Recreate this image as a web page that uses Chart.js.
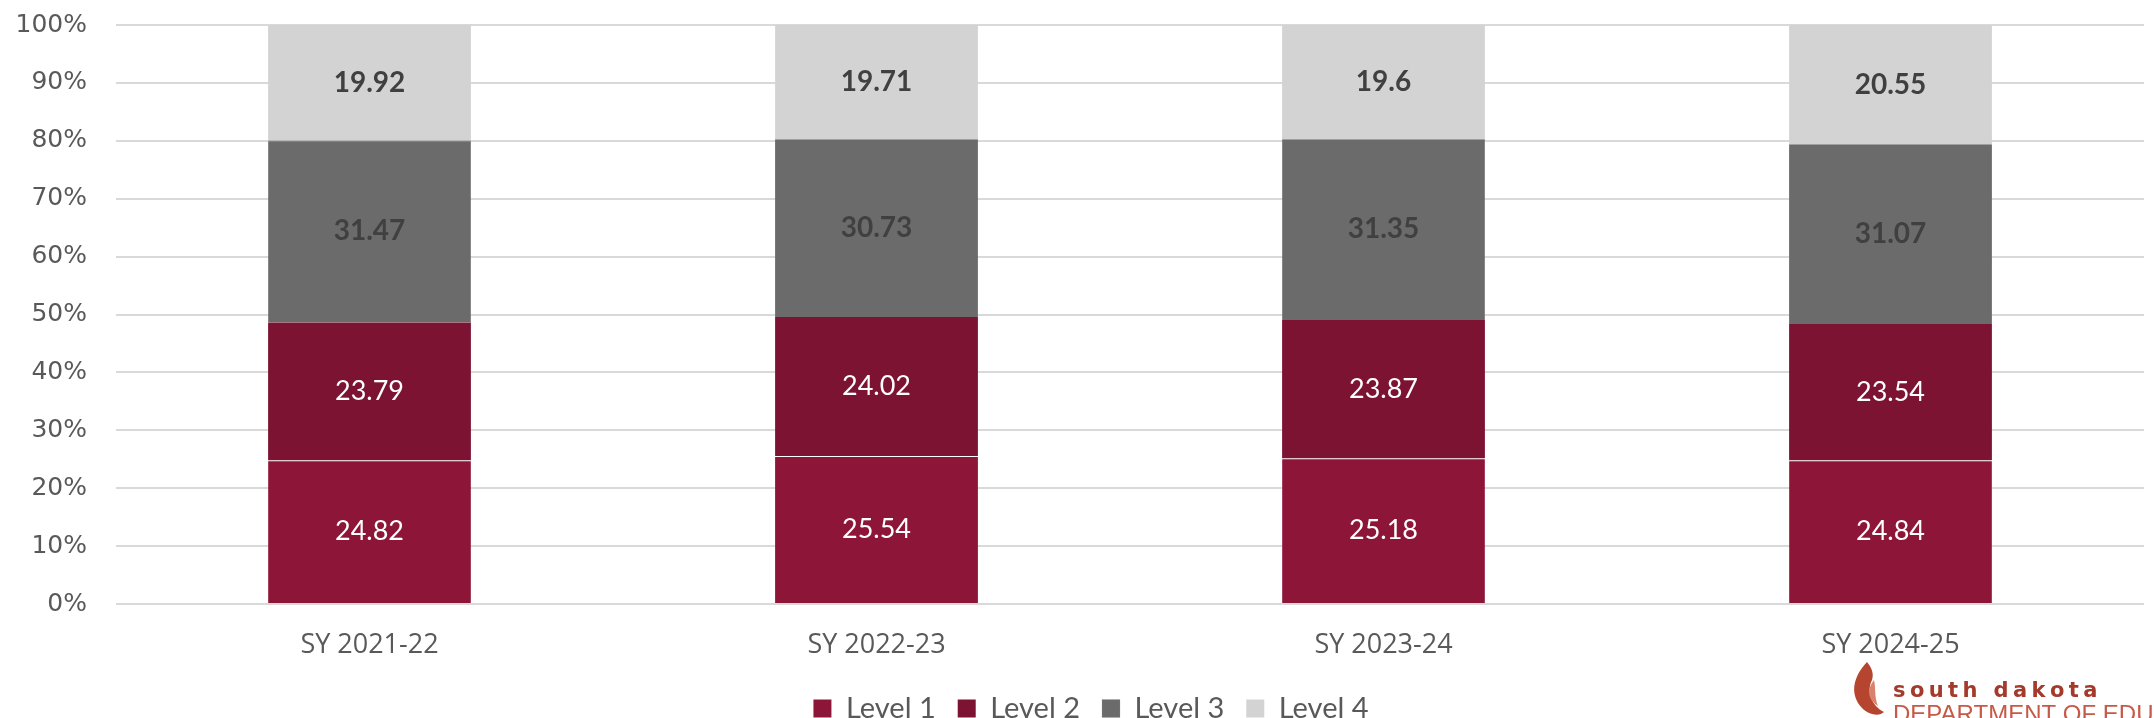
<!DOCTYPE html>
<html>
<head>
<meta charset="utf-8">
<script src="https://cdn.jsdelivr.net/npm/chart.js@4.4.1/dist/chart.umd.min.js"></script>
<style>
html,body{margin:0;padding:0;background:#fff;}
#wrap{width:2154px;height:718px;position:relative;}
</style>
</head>
<body>
<div id="wrap"><canvas id="c" width="2154" height="718"></canvas></div>
<script>
const categories = ["SY 2021-22", "SY 2022-23", "SY 2023-24", "SY 2024-25"];
const level1 = [24.82, 25.54, 25.18, 24.84];
const level2 = [23.79, 24.02, 23.87, 23.54];
const level3 = [31.47, 30.73, 31.35, 31.07];
const level4 = [19.92, 19.71, 19.6, 20.55];
const seriesNames = ["Level 1", "Level 2", "Level 3", "Level 4"];
const yTicks = [0,10,20,30,40,50,60,70,80,90,100];

const colors = ["#8C1538", "#7C1332", "#6B6B6B", "#D3D3D3"];
const labelColors = ["#FFFFFF", "#FFFFFF", "#404040", "#404040"];
const labelFonts = ['27px Lato, sans-serif', '27px Lato, sans-serif', 'bold 28px Lato, sans-serif', 'bold 28px Lato, sans-serif'];

const valueLabels = {
  id: 'valueLabels',
  afterDatasetsDraw(chart) {
    const ctx = chart.ctx;
    chart.data.datasets.forEach((ds, i) => {
      const meta = chart.getDatasetMeta(i);
      meta.data.forEach((bar, j) => {
        const cy = (bar.y + bar.base) / 2;
        ctx.save();
        ctx.font = labelFonts[i];
        ctx.fillStyle = labelColors[i];
        ctx.textAlign = 'center';
        ctx.textBaseline = 'middle';
        ctx.fillText(String(ds.data[j]), bar.x, cy);
        ctx.restore();
      });
    });
  }
};

const legendShift = {
  id: 'legendShift',
  afterLayout(chart) {
    if (chart.legend) { chart.legend.left += 19; chart.legend.right += 19; }
  }
};

const logo = {
  id: 'logo',
  afterDraw(chart) {
    const ctx = chart.ctx;
    ctx.save();
    ctx.fillStyle = '#B5452F';
    ctx.beginPath();
    ctx.moveTo(1867, 662);
    ctx.bezierCurveTo(1852, 678, 1850, 695, 1862, 708);
    ctx.bezierCurveTo(1870, 716, 1880, 716, 1884, 712);
    ctx.bezierCurveTo(1872, 706, 1866, 692, 1872, 680);
    ctx.bezierCurveTo(1874, 674, 1872, 668, 1867, 662);
    ctx.fill();
    ctx.fillStyle = '#D9826E';
    ctx.beginPath();
    ctx.moveTo(1874, 680);
    ctx.bezierCurveTo(1866, 690, 1868, 700, 1878, 706);
    ctx.bezierCurveTo(1874, 696, 1876, 688, 1874, 680);
    ctx.fill();
    ctx.font = 'bold 21px "DejaVu Sans", sans-serif';
    ctx.fillStyle = '#A43A2C';
    ctx.textBaseline = 'alphabetic';
    ctx.textAlign = 'left';
    const s = "south dakota";
    let x = 1893;
    for (const ch of s) { ctx.fillText(ch, x, 697); x += ctx.measureText(ch).width + 4.4; }
    ctx.font = '24px "Liberation Sans", sans-serif';
    ctx.fillStyle = '#C65A48';
    ctx.fillText("DEPARTMENT OF EDUCATION", 1893, 722);
    ctx.restore();
  }
};

new Chart(document.getElementById('c'), {
  type: 'bar',
  data: {
    labels: categories,
    datasets: [level1, level2, level3, level4].map((d, i) => ({
      label: seriesNames[i],
      data: d,
      backgroundColor: colors[i],
      borderColor: i === 0 ? 'rgba(255,255,255,0.15)' : (i === 2 ? 'rgba(150,150,150,0.9)' : 'rgba(255,255,255,0)'),
      borderWidth: i === 0 || i === 2 ? {top: 1, left: 0, right: 0, bottom: 0} : 0,
      borderSkipped: false,
      barPercentage: 0.4,
      categoryPercentage: 1.0
    }))
  },
  options: {
    responsive: false,
    animation: false,
    devicePixelRatio: 1,
    layout: { padding: { top: 25, right: 10, left: 0, bottom: -15 } },
    scales: {
      x: {
        stacked: true,
        grid: { display: false, drawTicks: false },
        border: { display: false },
        ticks: { color: '#595959', font: { family: '"Open Sans", sans-serif', size: 27 }, padding: 25 },
        afterFit: s => { s.height = 68; }
      },
      y: {
        stacked: true,
        min: 0, max: 100,
        afterBuildTicks: s => { s.ticks = yTicks.map(v => ({ value: v })); },
        grid: { color: '#D9D9D9', lineWidth: 2, drawTicks: false },
        border: { display: false },
        ticks: { color: '#595959', font: { family: '"DejaVu Sans", sans-serif', size: 25 }, padding: 29, callback: v => v + '%' },
        afterFit: s => { s.width = 116; s.paddingTop = 0; s.paddingBottom = 0; }
      }
    },
    plugins: {
      legend: {
        position: 'bottom',
        labels: { color: '#595959', font: { family: 'Lato, sans-serif', size: 29 }, boxWidth: 18, boxHeight: 18, padding: 22 }
      },
      tooltip: { enabled: false }
    }
  },
  plugins: [valueLabels, legendShift, logo]
});
</script>
</body>
</html>
